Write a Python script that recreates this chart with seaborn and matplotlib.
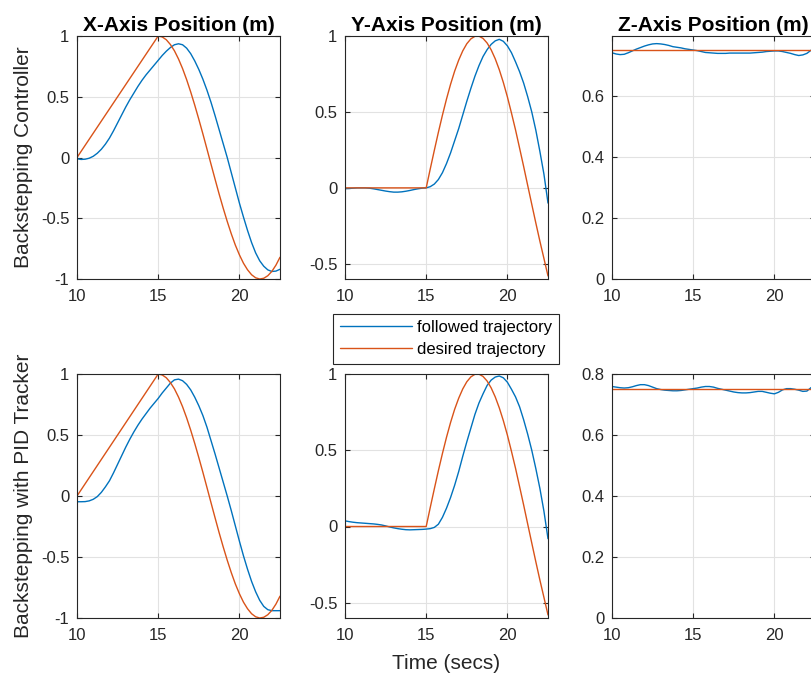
import matplotlib
matplotlib.use("Agg")
import matplotlib.pyplot as plt
from matplotlib.lines import Line2D
from matplotlib.ticker import FixedLocator, FuncFormatter
import pandas as pd
import seaborn as sns

# Sample clock (s)
time_s = [10.0, 10.25, 10.5, 10.75, 11.0, 11.25, 11.5, 11.75, 12.0, 12.25,
          12.5, 12.75, 13.0, 13.25, 13.5, 13.75, 14.0, 14.25, 14.5, 14.75,
          15.0, 15.25, 15.5, 15.75, 16.0, 16.25, 16.5, 16.75, 17.0, 17.25,
          17.5, 17.75, 18.0, 18.25, 18.5, 18.75, 19.0, 19.25, 19.5, 19.75,
          20.0, 20.25, 20.5, 20.75, 21.0, 21.25, 21.5, 21.75, 22.0, 22.25,
          22.5]

# Reference (desired) trajectories
x_desired = [0.00, 0.05, 0.10, 0.15, 0.20, 0.25, 0.30, 0.35, 0.40, 0.45,
             0.50, 0.55, 0.60, 0.65, 0.70, 0.75, 0.80, 0.85, 0.90, 0.95,
             1.00, 0.992, 0.969, 0.930, 0.878, 0.811, 0.732, 0.641, 0.540, 0.431,
             0.315, 0.195, 0.071, -0.054, -0.178, -0.300, -0.416, -0.526, -0.628, -0.721,
             -0.801, -0.870, -0.924, -0.965, -0.990, -1.000, -0.994, -0.973, -0.937, -0.886,
             -0.821]
y_desired = [0.0, 0.0, 0.0, 0.0, 0.0, 0.0, 0.0, 0.0, 0.0, 0.0,
             0.0, 0.0, 0.0, 0.0, 0.0, 0.0, 0.0, 0.0, 0.0, 0.0,
             0.0, 0.125, 0.247, 0.366, 0.479, 0.585, 0.682, 0.768, 0.841, 0.902,
             0.949, 0.981, 0.998, 0.999, 0.984, 0.954, 0.909, 0.850, 0.778, 0.694,
             0.599, 0.493, 0.382, 0.262, 0.141, 0.016, -0.108, -0.231, -0.351, -0.465,
             -0.580]
z_setpoint = 0.75
z_desired = [z_setpoint] * len(time_s)

# Followed trajectory, backstepping controller
x_followed_bs = [-0.010, -0.016, -0.014, -0.006, 0.010, 0.035, 0.068, 0.110, 0.160, 0.220,
                 0.285, 0.350, 0.415, 0.475, 0.530, 0.585, 0.635, 0.680, 0.720, 0.760,
                 0.800, 0.840, 0.875, 0.905, 0.928, 0.936, 0.928, 0.900, 0.855, 0.795,
                 0.725, 0.645, 0.555, 0.455, 0.345, 0.230, 0.115, 0.000, -0.125, -0.250,
                 -0.375, -0.490, -0.600, -0.700, -0.785, -0.850, -0.895, -0.925, -0.938, -0.935,
                 -0.920]
y_followed_bs = [-0.005, -0.004, -0.002, 0.000, 0.000, 0.000, -0.002, -0.006, -0.011, -0.016,
                 -0.021, -0.025, -0.028, -0.028, -0.026, -0.022, -0.017, -0.011, -0.006, -0.002,
                 0.000, 0.008, 0.025, 0.055, 0.100, 0.160, 0.230, 0.310, 0.390, 0.480,
                 0.570, 0.655, 0.735, 0.805, 0.865, 0.910, 0.945, 0.968, 0.978, 0.965,
                 0.935, 0.890, 0.830, 0.765, 0.690, 0.600, 0.500, 0.380, 0.240, 0.090,
                 -0.100]
z_followed_bs = [0.742, 0.738, 0.736, 0.737, 0.742, 0.748, 0.754, 0.759, 0.764, 0.768,
                 0.771, 0.772, 0.771, 0.769, 0.766, 0.762, 0.760, 0.758, 0.755, 0.753,
                 0.751, 0.749, 0.746, 0.743, 0.742, 0.741, 0.740, 0.740, 0.740, 0.741,
                 0.741, 0.741, 0.741, 0.741, 0.741, 0.742, 0.743, 0.744, 0.746, 0.747,
                 0.748, 0.748, 0.746, 0.743, 0.740, 0.736, 0.733, 0.735, 0.740, 0.750,
                 0.759]

# Followed trajectory, backstepping with PID tracker
x_followed_pid = [-0.047, -0.047, -0.046, -0.040, -0.027, -0.005, 0.030, 0.075, 0.125, 0.190,
                  0.260, 0.330, 0.400, 0.465, 0.525, 0.580, 0.630, 0.675, 0.720, 0.760,
                  0.800, 0.845, 0.885, 0.925, 0.952, 0.958, 0.945, 0.915, 0.870, 0.810,
                  0.740, 0.660, 0.565, 0.455, 0.345, 0.230, 0.115, 0.000, -0.120, -0.245,
                  -0.370, -0.490, -0.600, -0.700, -0.785, -0.855, -0.905, -0.932, -0.940, -0.940,
                  -0.940]
y_followed_pid = [0.037, 0.032, 0.028, 0.025, 0.023, 0.021, 0.019, 0.017, 0.014, 0.010,
                  0.004, -0.003, -0.009, -0.014, -0.018, -0.021, -0.022, -0.021, -0.020, -0.019,
                  -0.017, -0.014, -0.006, 0.015, 0.060, 0.120, 0.190, 0.270, 0.360, 0.460,
                  0.555, 0.645, 0.735, 0.810, 0.870, 0.925, 0.960, 0.980, 0.987, 0.975,
                  0.946, 0.900, 0.850, 0.785, 0.700, 0.605, 0.500, 0.380, 0.250, 0.100,
                  -0.080]
z_followed_pid = [0.759, 0.757, 0.755, 0.754, 0.755, 0.758, 0.762, 0.765, 0.765, 0.762,
                  0.757, 0.752, 0.749, 0.747, 0.746, 0.745, 0.745, 0.746, 0.748, 0.750,
                  0.752, 0.754, 0.757, 0.759, 0.759, 0.757, 0.753, 0.750, 0.747, 0.744,
                  0.741, 0.739, 0.738, 0.738, 0.739, 0.741, 0.743, 0.743, 0.740, 0.737,
                  0.735, 0.740, 0.748, 0.752, 0.752, 0.750, 0.747, 0.743, 0.744, 0.755,
                  0.763]

titles = ["X-Axis Position (m)", "Y-Axis Position (m)", "Z-Axis Position (m)"]
row_labels = ["Backstepping Controller", "Backstepping with PID Tracker"]
series_names = ["followed trajectory", "desired trajectory"]
x_ticks = [10, 15, 20]

BLUE = "#0072BD"
ORANGE = "#D95319"
AXIS_GRAY = "#262626"

sns.set_theme(style="whitegrid")
plt.rcParams["font.family"] = ["Liberation Sans", "DejaVu Sans"]
plt.rcParams["axes.unicode_minus"] = False

W, H = 812, 680
fig = plt.figure(figsize=(W / 100, H / 100), dpi=100)
fig.patch.set_facecolor("white")

col_left = [77, 345, 612]
row_top = [36, 374]
row_bottom = [279, 618]
ax_w = 203

panels = [
    # row, col, followed, desired, ylim, yticks
    (0, 0, x_followed_bs, x_desired, (-1, 1), [-1, -0.5, 0, 0.5, 1]),
    (0, 1, y_followed_bs, y_desired, (-0.6, 1), [-0.5, 0, 0.5, 1]),
    (0, 2, z_followed_bs, z_desired, (0, 0.797), [0, 0.2, 0.4, 0.6]),
    (1, 0, x_followed_pid, x_desired, (-1, 1), [-1, -0.5, 0, 0.5, 1]),
    (1, 1, y_followed_pid, y_desired, (-0.6, 1), [-0.5, 0, 0.5, 1]),
    (1, 2, z_followed_pid, z_desired, (0, 0.8), [0, 0.2, 0.4, 0.6, 0.8]),
]

fmt = FuncFormatter(lambda v, p: f"{v:g}")
axes = {}
for row, col, followed, desired, ylim, yticks in panels:
    left = col_left[col] / W
    bottom = 1 - row_bottom[row] / H
    height = (row_bottom[row] - row_top[row]) / H
    ax = fig.add_axes([left, bottom, ax_w / W, height])
    axes[(row, col)] = ax

    df = pd.DataFrame({
        "time": time_s + time_s,
        "value": list(followed) + list(desired),
        "series": [series_names[0]] * len(time_s) + [series_names[1]] * len(time_s),
    })
    sns.lineplot(data=df, x="time", y="value", hue="series",
                 hue_order=series_names, palette=[BLUE, ORANGE],
                 linewidth=1.0, legend=False, ax=ax, sort=False)

    ax.set_xlim(10, 22.5)
    ax.set_ylim(*ylim)
    ax.xaxis.set_major_locator(FixedLocator(x_ticks))
    ax.yaxis.set_major_locator(FixedLocator(yticks))
    ax.xaxis.set_major_formatter(fmt)
    ax.yaxis.set_major_formatter(fmt)
    ax.set_xlabel("")
    ax.set_ylabel("")
    ax.set_facecolor("white")
    ax.grid(True, color="#e2e2e2", linewidth=0.8)
    ax.set_axisbelow(True)
    for s in ax.spines.values():
        s.set_visible(True)
        s.set_color(AXIS_GRAY)
        s.set_linewidth(0.8)
    ax.tick_params(direction="in", length=3.5, width=0.8, top=True, right=True,
                   bottom=True, left=True, labelsize=12, colors=AXIS_GRAY)
    ax.tick_params(axis="x", pad=7)
    ax.tick_params(axis="y", pad=5.5)

    if row == 0:
        ax.set_title(titles[col], fontsize=15, fontweight="bold", color="black", pad=3.5)
    if col == 0:
        ax.set_ylabel(row_labels[row], fontsize=15, color=AXIS_GRAY)
        ax.yaxis.set_label_coords(-0.215, 0.5)

axes[(1, 1)].set_xlabel("Time (secs)", fontsize=15, color=AXIS_GRAY)
axes[(1, 1)].xaxis.set_label_coords(0.5, -0.148)

handles = [Line2D([], [], color=BLUE, lw=1.0), Line2D([], [], color=ORANGE, lw=1.0)]
leg = fig.legend(handles, series_names, loc="center",
                 bbox_to_anchor=(446 / W, 1 - 338.5 / H),
                 fontsize=12, frameon=True, fancybox=False, framealpha=1,
                 edgecolor=AXIS_GRAY, handlelength=4.3, handletextpad=0.3,
                 borderpad=0.4, labelspacing=0.4, borderaxespad=0)
leg.get_frame().set_linewidth(0.8)
for t in leg.get_texts():
    t.set_color("black")

fig.savefig("out.png", dpi=100, facecolor="white")
